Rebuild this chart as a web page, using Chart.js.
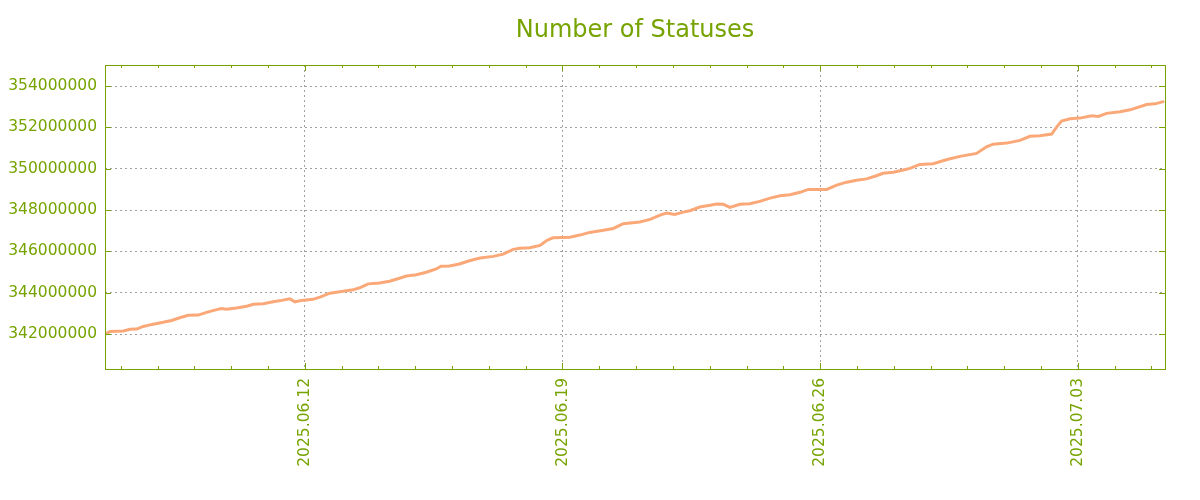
<!DOCTYPE html>
<html>
<head>
<meta charset="utf-8">
<script src="https://cdn.jsdelivr.net/npm/chart.js@4/dist/chart.umd.min.js"></script>
<style>
  html, body { margin: 0; padding: 0; background: #fff; }
  #wrap { width: 1200px; height: 500px; }
</style>
</head>
<body>
<div id="wrap"><canvas id="statusChart" width="1200" height="500"></canvas></div>
<script>
// days are offsets from 2025.06.12 00:00
const days = [-5.43,-5.29,-4.93,-4.75,-4.57,-4.39,-4.12,-3.85,-3.62,-3.40,-3.17,-2.90,-2.67,-2.45,-2.27,-2.13,-1.86,-1.58,-1.40,-1.13,-0.86,-0.63,-0.41,-0.27,-0.09,
  0.22,0.41,0.68,1.04,1.31,1.49,1.72,2.03,2.30,2.57,2.76,3.03,3.30,3.57,3.70,3.93,4.20,4.47,4.76,5.12,5.39,5.66,5.84,6.11,6.39,6.57,6.74,
  7.20,7.47,7.74,8.11,8.38,8.65,9.10,9.38,9.65,9.83,10.05,10.28,10.46,10.73,11.01,11.19,11.37,11.55,11.82,12.09,12.36,12.64,12.91,13.18,13.45,
  13.68,14.18,14.45,14.72,14.99,15.26,15.53,15.71,15.99,16.26,16.44,16.71,17.07,17.45,17.80,18.25,18.52,18.70,19.07,19.43,19.70,19.97,
  20.29,20.43,20.56,20.79,21.06,21.38,21.56,21.78,22.15,22.42,22.87,23.10,23.35];
const statuses = [342000000,342130000,342150000,342230000,342240000,342370000,342480000,342570000,342660000,342790000,342910000,342920000,343050000,
  343160000,343240000,343200000,343260000,343350000,343440000,343470000,343560000,343630000,343710000,343560000,343630000,
  343680000,343790000,343980000,344070000,344140000,344240000,344430000,344470000,344560000,344700000,344810000,344870000,344990000,
  345150000,345280000,345290000,345390000,345550000,345680000,345760000,345870000,346100000,346150000,346180000,346290000,346530000,346660000,
  346690000,346790000,346920000,347020000,347110000,347340000,347420000,347550000,347760000,347860000,347790000,347900000,347970000,
  348150000,348230000,348290000,348280000,348130000,348280000,348310000,348420000,348580000,348690000,348740000,348860000,
  349000000,349000000,349210000,349350000,349440000,349510000,349660000,349780000,349830000,349940000,350020000,350210000,350240000,
  350450000,350600000,350740000,351060000,351190000,351240000,351370000,351570000,351600000,351680000,
  352030000,352310000,352420000,352450000,352560000,352530000,352680000,352760000,352850000,353110000,353140000,353260000];

const yTicks = [342000000, 344000000, 346000000, 348000000, 350000000, 352000000, 354000000];
const labelDays = [0, 7, 14, 21];
const dateLabels = ["2025.06.12", "2025.06.19", "2025.06.26", "2025.07.03"];
const minorDays = Array.from({length: 29}, (_, i) => i - 5);

const TITLE = "Number of Statuses";
const GREEN = "#76a300";
const GRID = "#a0a0a0";
const FONT = "'DejaVu Sans', Verdana, sans-serif";

// gnuplot style frame with inward ticks, title centred over the plot
const frameTicks = {
  id: "frameTicks",
  afterDraw(chart){
    const { ctx, chartArea: a, scales: { x, y } } = chart;
    ctx.save();
    ctx.strokeStyle = GREEN;
    ctx.lineWidth = 1;
    ctx.strokeRect(a.left + 0.5, a.top + 0.5, a.right - a.left, a.bottom - a.top);
    ctx.beginPath();
    x.ticks.forEach(t => {
      const px = Math.round(x.getPixelForValue(t.value)) + 0.5;
      const len = labelDays.includes(t.value) ? 6 : 3;
      ctx.moveTo(px, a.bottom); ctx.lineTo(px, a.bottom - len);
      ctx.moveTo(px, a.top); ctx.lineTo(px, a.top + len);
    });
    y.ticks.forEach(t => {
      const py = Math.round(y.getPixelForValue(t.value)) + 0.5;
      ctx.moveTo(a.left, py); ctx.lineTo(a.left + 6, py);
      ctx.moveTo(a.right, py); ctx.lineTo(a.right - 6, py);
    });
    ctx.stroke();
    ctx.fillStyle = GREEN;
    ctx.font = "24px " + FONT;
    ctx.textAlign = "center";
    ctx.textBaseline = "middle";
    ctx.fillText(TITLE, (a.left + a.right) / 2, 31);
    ctx.restore();
  }
};

function init(){
  new Chart(document.getElementById("statusChart").getContext("2d"), {
    type: "line",
    data: {
      datasets: [{
        label: TITLE,
        data: days.map((d, i) => ({ x: d, y: statuses[i] })),
        borderColor: "#fba878",
        borderWidth: 3,
        pointRadius: 0,
        tension: 0,
        fill: false
      }]
    },
    options: {
      responsive: false,
      animation: false,
      layout: { padding: { left: 0, right: 35, top: 65, bottom: 0 } },
      plugins: {
        legend: { display: false },
        tooltip: { enabled: false },
        title: { display: false }
      },
      scales: {
        x: {
          type: "linear",
          min: -5.43,
          max: 23.37,
          afterBuildTicks: s => { s.ticks = minorDays.map(v => ({ value: v })); },
          afterFit: s => { s.height = 131; },
          grid: {
            drawTicks: false,
            color: c => (c.tick && labelDays.includes(c.tick.value)) ? GRID : "rgba(0,0,0,0)"
          },
          border: { display: false, dash: [2, 3] },
          ticks: {
            autoSkip: false,
            minRotation: 90,
            maxRotation: 90,
            padding: 9,
            color: GREEN,
            font: { family: FONT, size: 15.5 },
            callback: v => { const i = labelDays.indexOf(v); return i >= 0 ? dateLabels[i] : ""; }
          }
        },
        y: {
          min: 340310000,
          max: 355020000,
          afterBuildTicks: s => { s.ticks = yTicks.map(v => ({ value: v })); },
          afterFit: s => { s.width = 105; },
          grid: { drawTicks: false, color: GRID },
          border: { display: false, dash: [2, 3] },
          ticks: {
            padding: 8,
            color: GREEN,
            font: { family: FONT, size: 15.5 },
            callback: v => String(v)
          }
        }
      }
    },
    plugins: [frameTicks]
  });
}
window.addEventListener("load", init);
</script>
</body>
</html>
